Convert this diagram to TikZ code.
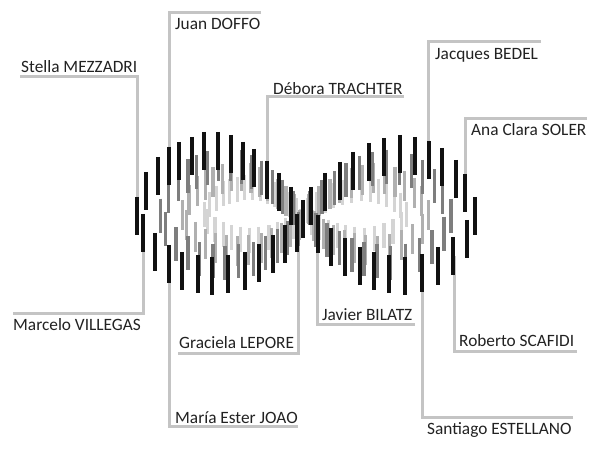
\documentclass[tikz,border=0pt]{standalone}
\usepackage{fontspec}
\setmainfont{Carlito}
\definecolor{leader}{HTML}{C4C4C4}
\definecolor{txt}{HTML}{222222}
\definecolor{lay0}{HTML}{111111}
\definecolor{lay1}{HTML}{7E7E7E}
\definecolor{lay2}{HTML}{B0B0B0}
\definecolor{lay3}{HTML}{D4D4D4}
\begin{document}
\begin{tikzpicture}[x=1pt,y=-1pt,
  lbl/.style={anchor=base west,inner sep=0pt,font=\fontsize{17.3}{20}\selectfont,text=txt},
  leadline/.style={draw=leader,line width=3pt},
  bar/.style={line width=3.7pt},
  innerbar/.style={line width=3.2pt}]
\useasboundingbox (0,0) rectangle (600,454);
\fill[white] (0,0) rectangle (600,454);
% labels
\node[lbl] (stella) at (21,73) {Stella MEZZADRI};
\node[lbl] (juan) at (175,30) {Juan DOFFO};
\node[lbl] (debora) at (273,95) {Débora TRACHTER};
\node[lbl] (jacques) at (435,60) {Jacques BEDEL};
\node[lbl] (ana) at (471,136) {Ana Clara SOLER};
\node[lbl] (marcelo) at (13,331) {Marcelo VILLEGAS};
\node[lbl] (graciela) at (179,349) {Graciela LEPORE};
\node[lbl] (maria) at (175,423) {María Ester JOAO};
\node[lbl] (javier) at (322,321) {Javier BILATZ};
\node[lbl] (roberto) at (459,347) {Roberto SCAFIDI};
\node[lbl] (santiago) at (427,435) {Santiago ESTELLANO};
% leader end points
\coordinate (eStella) at (137,216);
\coordinate (eJuan) at (169,166);
\coordinate (eDebora) at (267,180);
\coordinate (eJacques) at (428,160);
\coordinate (eAna) at (465,193);
\coordinate (eMarcelo) at (143,233);
\coordinate (eGraciela) at (298,234);
\coordinate (eMaria) at (169,264);
\coordinate (eJavier) at (317,234);
\coordinate (eRoberto) at (454,256);
\coordinate (eSantiago) at (422,273);
% leader lines
\draw[leadline] (20,77) -- (eStella |- 0,77) -- (eStella);
\draw[leadline] (261,13) -- (eJuan |- 0,13) -- (eJuan);
\draw[leadline] (404,97) -- (eDebora |- 0,97) -- (eDebora);
\draw[leadline] (541,42) -- (eJacques |- 0,42) -- (eJacques);
\draw[leadline] (587,119) -- (eAna |- 0,119) -- (eAna);
\draw[leadline] (13,314) -- (eMarcelo |- 0,314) -- (eMarcelo);
\draw[leadline] (178,354) -- (eGraciela |- 0,354) -- (eGraciela);
\draw[leadline] (298,426) -- (eMaria |- 0,426) -- (eMaria);
\draw[leadline] (415,325) -- (eJavier |- 0,325) -- (eJavier);
\draw[leadline] (577,352) -- (eRoberto |- 0,352) -- (eRoberto);
\draw[leadline] (573,417) -- (eSantiago |- 0,417) -- (eSantiago);
% bars
\def\leftbars{137/197,146/172,158/157,169/147,179/142,192/137,204/132,218/132,231/135,243/142,254/149,267/161,279/173,291/187,303/200,
143/214,155/233,169/245,182/252,198/255,212/257,228/255,245/252,259/244,273/235,285/225,297/214}
\def\rightbars{311/187,325/173,340/162,353/152,369/143,384/138,400/135,415/137,429/141,442/148,456/160,465/174,475/197,
318/215,331/228,345/238,360/247,374/252,389/255,405/257,422/254,438/247,453/237,467/220}
\foreach \s/\sy/\len/\col in {0.60/0.42/25/lay3,0.73/0.60/30/lay2,0.86/0.79/34/lay1}{
  \foreach \x/\t in \leftbars{
    \draw[innerbar,draw=\col] ({305+\s*(\x-305)},{214+\sy*(\t+19-214)-\len/2}) -- ++(0,\len);
  }
  \foreach \x/\t in \rightbars{
    \draw[innerbar,draw=\col] ({303+\s*(\x-303)},{214+\sy*(\t+19-214)-\len/2}) -- ++(0,\len);
  }
}
\foreach \x/\t in \leftbars{\draw[bar,draw=lay0] (\x,\t) -- ++(0,38);}
\foreach \x/\t in \rightbars{\draw[bar,draw=lay0] (\x,\t) -- ++(0,38);}
\end{tikzpicture}
\end{document}
